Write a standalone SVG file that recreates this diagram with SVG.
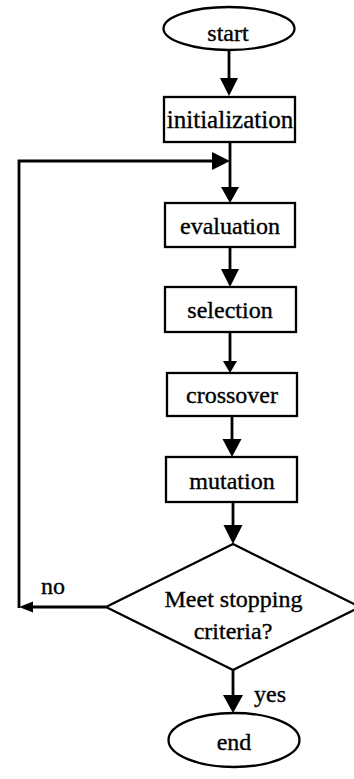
<svg xmlns="http://www.w3.org/2000/svg" width="354" height="779" viewBox="0 0 354 779">
  <style>
    .shape { fill: #ffffff; stroke: #000000; stroke-width: 2.3; }
    .wire { fill: none; stroke: #000000; stroke-width: 2.8; }
    .head { fill: #000000; stroke: none; }
    .label { font-family: "Liberation Serif", "Times New Roman", serif; font-size: 24px; fill: #000000; stroke: #000000; stroke-width: 0.35; text-anchor: middle; }
    .tag { font-family: "Liberation Serif", "Times New Roman", serif; font-size: 24px; fill: #000000; stroke: #000000; stroke-width: 0.35; }
  </style>
  <rect width="354" height="779" fill="#ffffff"/>

  <!-- connectors -->
  <g id="connectors">
    <!-- start -> initialization -->
    <line class="wire" x1="229" y1="50" x2="229" y2="80"/>
    <polygon class="head" points="229,96 220,78 238,78"/>
    <!-- initialization -> evaluation -->
    <line class="wire" x1="230" y1="142" x2="230" y2="189"/>
    <polygon class="head" points="230,203 221,187 239,187"/>
    <!-- evaluation -> selection -->
    <line class="wire" x1="230" y1="247" x2="230" y2="271"/>
    <polygon class="head" points="230,287 221,269 239,269"/>
    <!-- selection -> crossover -->
    <line class="wire" x1="230" y1="332" x2="230" y2="363"/>
    <polygon class="head" points="230,373 223,361 237,361"/>
    <!-- crossover -> mutation -->
    <line class="wire" x1="232" y1="416" x2="232" y2="441"/>
    <polygon class="head" points="232,457 222.5,439 241.5,439"/>
    <!-- mutation -> decision -->
    <line class="wire" x1="233" y1="502" x2="233" y2="527"/>
    <polygon class="head" points="233,544 223.5,525 242.5,525"/>
    <!-- decision -> end (yes) -->
    <line class="wire" x1="233" y1="670" x2="233" y2="697"/>
    <polygon class="head" points="233,713 223,695 243,695"/>
    <!-- decision -> loop back (no) -->
    <line class="wire" x1="106" y1="607" x2="30" y2="607"/>
    <polygon class="head" points="19,607 33,601.5 33,612.5"/>
    <polyline class="wire" points="19,608 19,161 214,161"/>
    <polygon class="head" points="230,161 212,152 212,170"/>
    <text class="tag" x="41" y="594">no</text>
    <text class="tag" x="254" y="702">yes</text>
  </g>

  <g id="start">
    <ellipse class="shape" cx="229" cy="28.5" rx="65.5" ry="21.5"/>
    <text class="label" x="228" y="41">start</text>
  </g>

  <g id="initialization">
    <rect class="shape" x="164" y="97" width="131" height="45"/>
    <text class="label" x="230" y="128" style="font-size:25px">initialization</text>
  </g>

  <g id="evaluation">
    <rect class="shape" x="165" y="203" width="130" height="44"/>
    <text class="label" x="230" y="234">evaluation</text>
  </g>

  <g id="selection">
    <rect class="shape" x="165" y="287" width="131" height="45"/>
    <text class="label" x="230" y="318">selection</text>
  </g>

  <g id="crossover">
    <rect class="shape" x="167" y="373" width="130" height="43"/>
    <text class="label" x="232" y="403">crossover</text>
  </g>

  <g id="mutation">
    <rect class="shape" x="166" y="457" width="131" height="45"/>
    <text class="label" x="232" y="489">mutation</text>
  </g>

  <g id="decision">
    <polygon class="shape" points="233,544 360,607 233,670 106,607"/>
    <text class="label" x="233.5" y="607">Meet stopping</text>
    <text class="label" x="233" y="639">criteria?</text>
  </g>

  <g id="end">
    <ellipse class="shape" cx="234" cy="740" rx="65.5" ry="27"/>
    <text class="label" x="234" y="750">end</text>
  </g>
</svg>
